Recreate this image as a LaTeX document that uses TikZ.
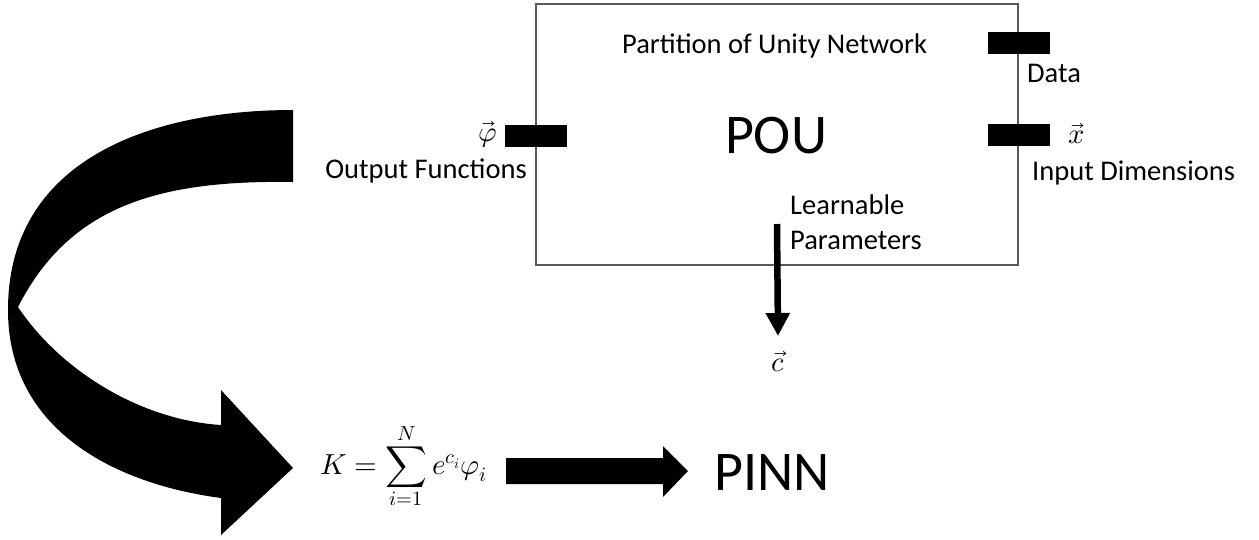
\documentclass[tikz,border=0pt]{standalone}
\usepackage{fontspec}
\usepackage{unicode-math}
\setmainfont{Carlito}
\setmathfont{Latin Modern Math}
\usetikzlibrary{arrows.meta}
\tikzset{
  lbl/.style={inner sep=0pt, font=\fontsize{28.5}{35}\selectfont},
  big/.style={inner sep=0pt, font=\fontsize{56}{64}\selectfont},
  formula/.style={inner sep=0pt, font=\fontsize{29}{35}\selectfont},
  port/.style={fill=black, inner sep=0pt, minimum width=62pt, minimum height=22pt},
  frame/.style={draw=black!65, line width=2pt, inner sep=0pt, fill=none},
  fatfill/.style={fill=black},
}
\begin{document}
\begin{tikzpicture}[x=1pt, y=-1pt]
\useasboundingbox (0,0) rectangle (1259,539);

% network block with its ports
\node[frame, minimum width=482pt, minimum height=261pt] (pou) at (777,134.5) {};
\node[big, anchor=base] (poulabel) at (776,153) {POU};
\node[lbl, anchor=base west] (title) at (622,53) {Partition of Unity Network};

\node[port] (outport) at (535.5,136) {};
\node[port] (dataport) at (1019,42.5) {};
\node[port] (inport) at (1019,134.5) {};

\node[lbl] (phi) at (488,134) {$\vec{\varphi}$};
\node[lbl, anchor=base east] (outfun) at (527,178) {Output Functions};
\node[lbl, anchor=base west] (data) at (1027,82) {Data};
\node[lbl] (xvec) at (1077,134) {$\vec{x}$};
\node[lbl, anchor=base west] (indim) at (1032,180) {Input Dimensions};
\node[lbl, anchor=base west] (learn1) at (790,214) {Learnable};
\node[lbl, anchor=base west] (learn2) at (790,249) {Parameters};

% learnable parameters leave the block
\coordinate (cstart) at (777,224);
\node[lbl] (cvec) at (778,362) {$\vec{c}$};
\draw[line width=6.5pt, -{Triangle[length=23pt, width=23pt]}] (cstart) -- (cvec.north |- 0,336);

% kernel formula and the PINN
\node[formula, anchor=base west] (kernel) at (320,474) {$\displaystyle K=\sum_{i=1}^{N} e^{c_i}\varphi_i$};
\node[big, anchor=base] (pinn) at (772,490) {PINN};

% block arrow from the kernel to the PINN
\coordinate (ka) at (506,471);
\coordinate (kb) at (688,471);
\fill[fatfill] (ka) ++(0,-13) -- (663,458) -- (663,446) -- (kb) -- (663,497) -- (663,484) -- (506,484) -- cycle;

% curled arrow carrying the output functions down to the formula
\coordinate (curltail) at (293,110);
\coordinate (curltip) at (293,468);
\fill[fatfill] (curltail) .. controls (150,110) and (8,160) .. (8,310)
  .. controls (8,430) and (115,484) .. (221,498)
  -- (221,535) -- (curltip) -- (221,390) -- (221,425)
  .. controls (140,420) and (60,370) .. (18,307)
  .. controls (70,205) and (160,180) .. (293,182) -- cycle;
\end{tikzpicture}
\end{document}
